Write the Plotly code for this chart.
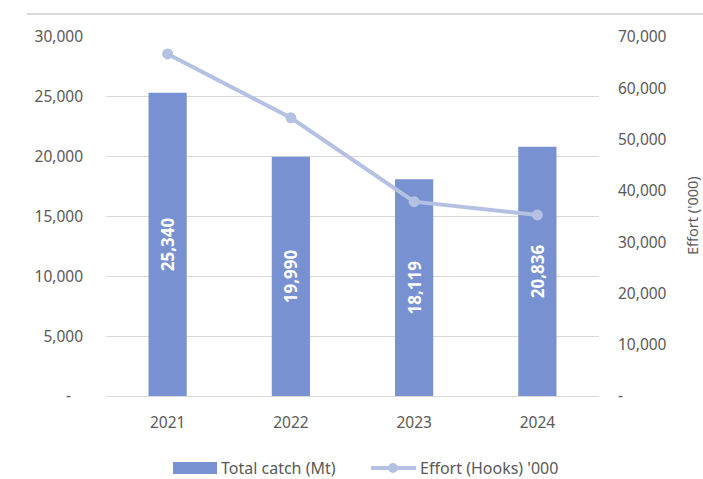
import plotly.graph_objects as go

years = ["2021", "2022", "2023", "2024"]
total_catch = [25340, 19990, 18119, 20836]
effort = [66700, 54250, 37900, 35300]
left_ticks = [0, 5000, 10000, 15000, 20000, 25000, 30000]
left_ticktext = ["-\u00a0\u00a0\u00a0", "5,000", "10,000", "15,000", "20,000", "25,000", "30,000"]
right_ticks = [0, 10000, 20000, 30000, 40000, 50000, 60000, 70000]
right_ticktext = ["-", "10,000", "20,000", "30,000", "40,000", "50,000", "60,000", "70,000"]

FONT = "Noto Sans"
GREY = "#595959"
BAR_C = "#7891d0"
LINE_C = "#b4c1e2"

W, H = 703, 479
PLOT_L, PLOT_R, PLOT_T, PLOT_B = 106, 599, 37, 396
L, T = PLOT_L, PLOT_T
R, B = W - PLOT_R, H - PLOT_B
PW, PH = PLOT_R - PLOT_L, PLOT_B - PLOT_T


def px(x):
    return (x - PLOT_L) / PW


def py(y):
    return (PLOT_B - y) / PH


fig = go.Figure()
fig.add_trace(go.Bar(
    x=years, y=total_catch, name="Total catch (Mt)",
    marker=dict(color=BAR_C, line=dict(width=0)),
    width=0.31,
    text=[f"{v:,}" for v in total_catch],
    textposition="inside", insidetextanchor="middle", textangle=-90,
    textfont=dict(color="white", size=17, family=FONT, weight="bold"),
    showlegend=False,
))
fig.add_trace(go.Scatter(
    x=years, y=effort, name="Effort (Hooks) '000", yaxis="y2",
    mode="lines+markers",
    line=dict(color=LINE_C, width=4),
    marker=dict(color=LINE_C, size=11),
    showlegend=False,
))

annotations = [
    dict(text="Effort ('000)", xref="paper", yref="paper", x=px(692), y=py(216),
         textangle=-90, showarrow=False, font=dict(size=14.5, color=GREY),
         xanchor="center", yanchor="middle"),
    dict(text="Total catch (Mt)", xref="paper", yref="paper", x=px(219), y=py(468),
         showarrow=False, font=dict(size=16, color=GREY), xanchor="left", yanchor="middle"),
    dict(text="Effort (Hooks) '000", xref="paper", yref="paper", x=px(418), y=py(468),
         showarrow=False, font=dict(size=16, color=GREY), xanchor="left", yanchor="middle"),
]

shapes = [
    dict(type="line", xref="paper", yref="paper", x0=px(27), x1=px(703), y0=py(14), y1=py(14),
         line=dict(color="#d9d9d9", width=2)),
    dict(type="rect", xref="paper", yref="paper", x0=px(173), x1=px(217), y0=py(462), y1=py(474),
         fillcolor=BAR_C, line=dict(width=0)),
    dict(type="line", xref="paper", yref="paper", x0=px(371), x1=px(416), y0=py(468), y1=py(468),
         line=dict(color=LINE_C, width=4)),
    dict(type="circle", xref="paper", yref="paper", x0=px(388), x1=px(398), y0=py(463), y1=py(473),
         fillcolor=LINE_C, line=dict(width=0)),
]

fig.update_layout(
    width=W, height=H,
    margin=dict(l=L, r=R, t=T, b=B, autoexpand=False),
    paper_bgcolor="white", plot_bgcolor="white",
    font=dict(family=FONT, size=15.5, color=GREY),
    showlegend=False,
    xaxis=dict(showgrid=False, showline=True, linecolor="#d9d9d9", linewidth=1,
               ticks="", tickfont=dict(size=15.5, color=GREY), ticklabelstandoff=12,
               automargin=False),
    yaxis=dict(range=[0, 30000], tickvals=left_ticks, ticktext=left_ticktext,
               showgrid=True, gridcolor="#d9d9d9", gridwidth=1, zeroline=False,
               ticks="", tickfont=dict(size=15.5, color=GREY), ticklabelstandoff=22,
               automargin=False),
    yaxis2=dict(range=[0, 70000], tickvals=right_ticks, ticktext=right_ticktext,
                overlaying="y", side="right", showgrid=False, zeroline=False,
                ticks="", tickfont=dict(size=15.5, color=GREY), ticklabelstandoff=18,
                automargin=False),
    bargap=0.69,
    shapes=shapes,
    annotations=annotations,
)

fig.write_html("out.html",
               config={"displayModeBar": False, "staticPlot": True},
               post_script="document.body.style.margin='0';document.body.style.overflow='hidden';")
